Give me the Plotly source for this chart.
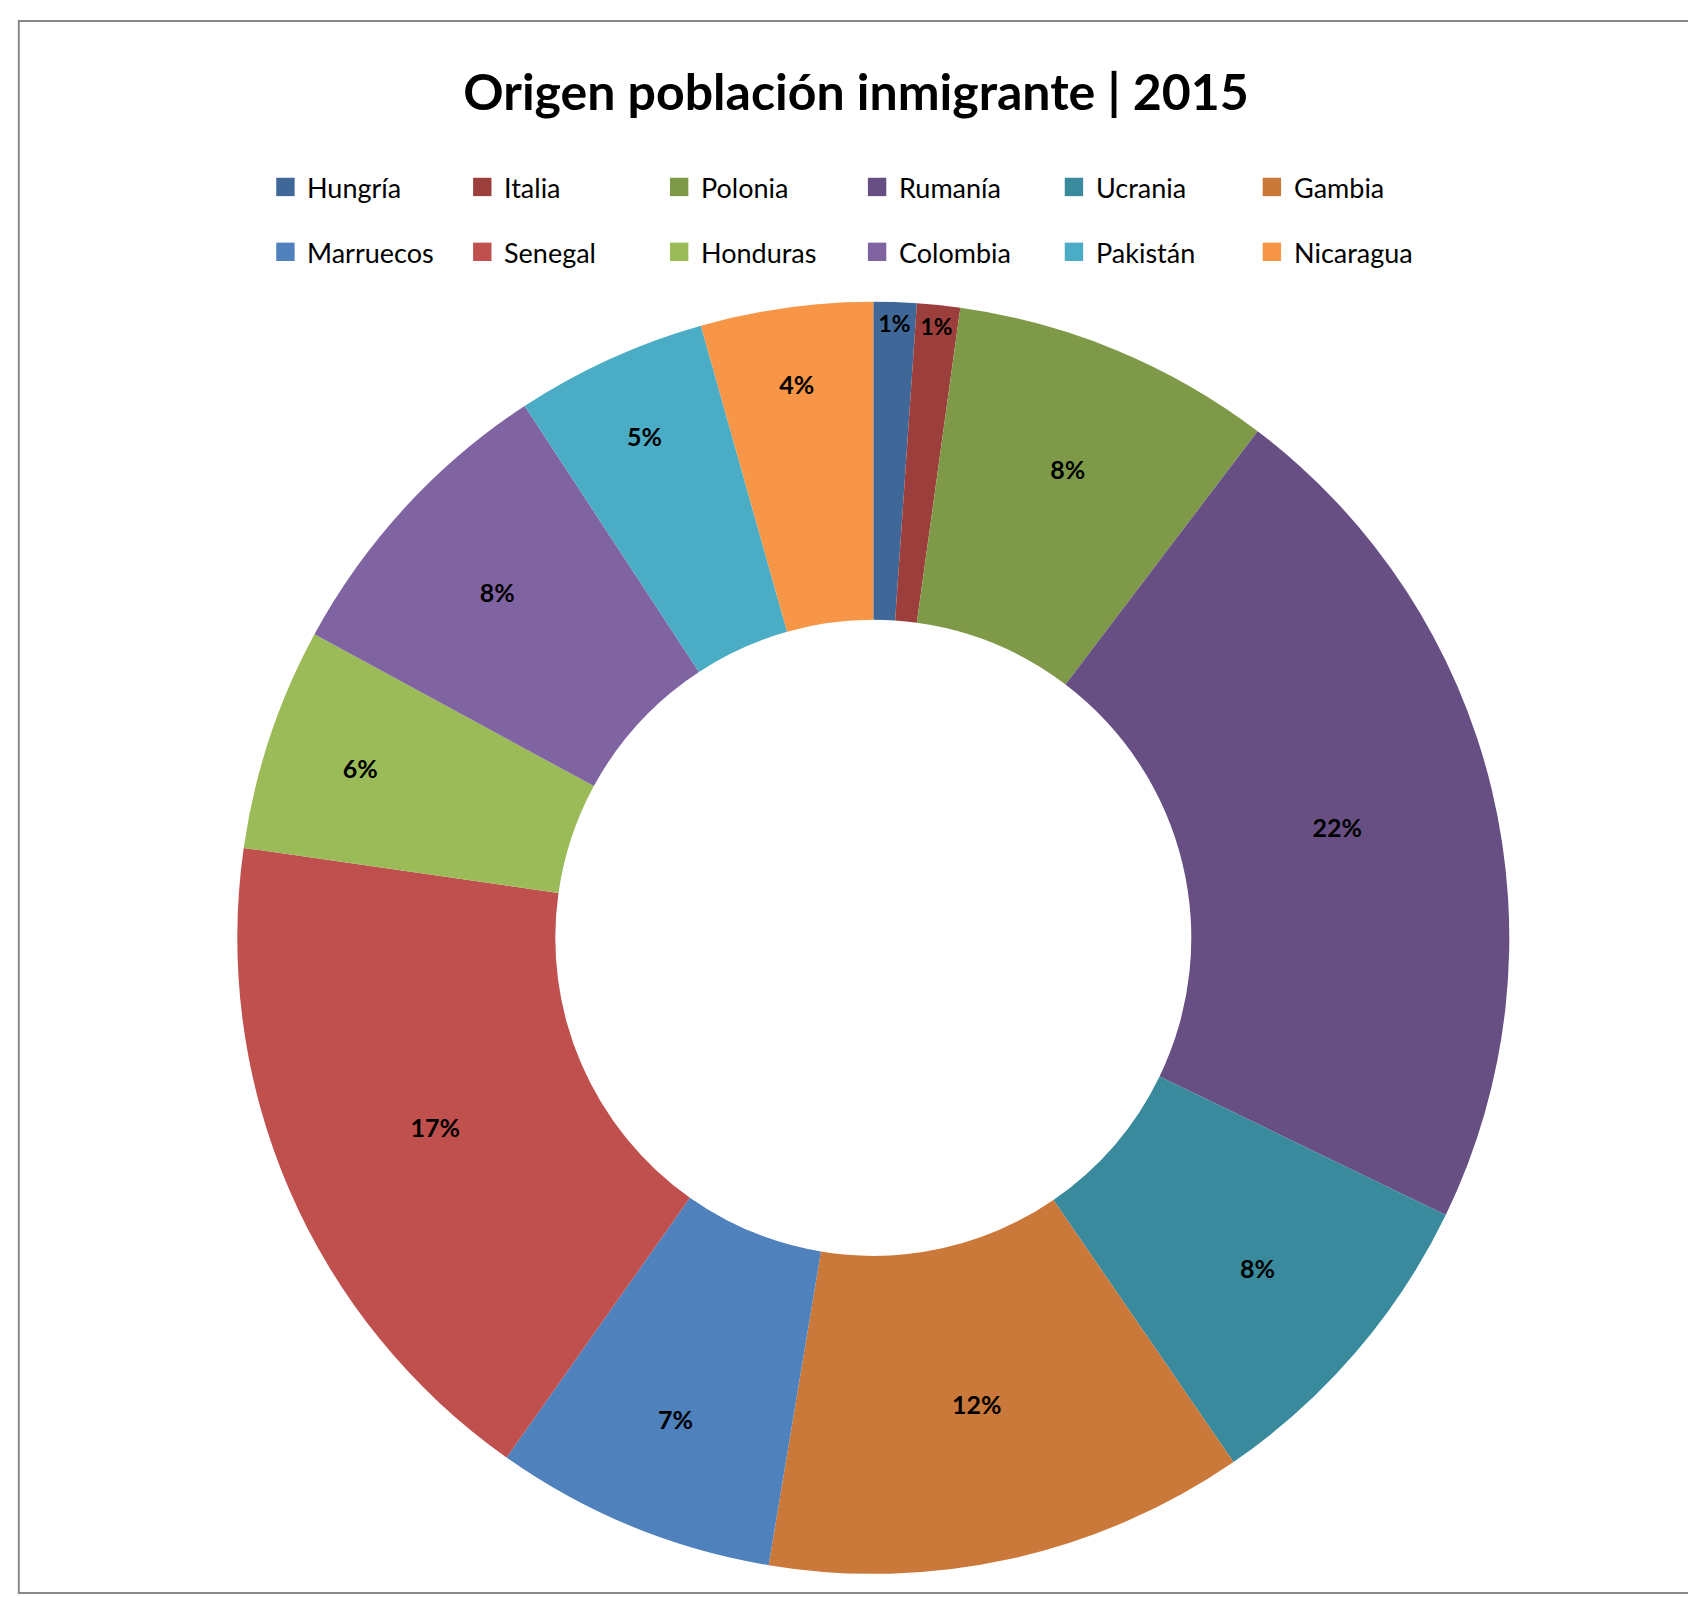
import plotly.graph_objects as go

countries = ["Hungría", "Italia", "Polonia", "Rumanía", "Ucrania", "Gambia",
             "Marruecos", "Senegal", "Honduras", "Colombia", "Pakistán", "Nicaragua"]
values = [1.1, 1.1, 8.2, 22.0, 8.3, 12.3, 7.2, 17.6, 5.7, 7.9, 4.9, 4.4]
colors = ["#3F6899", "#9C3F3C", "#7E9A48", "#684F83", "#3A8A9E", "#CB793A",
          "#4F81BD", "#C0504D", "#9BBB59", "#8064A2", "#4BACC6", "#F79646"]

W, H = 1568, 1477
fig = go.Figure(go.Pie(
    labels=countries, values=values, hole=0.5, sort=False,
    direction="clockwise", rotation=0,
    marker=dict(colors=colors, line=dict(width=0)),
    texttemplate="%{percent:.0%}", textposition="inside",
    insidetextorientation="horizontal",
    textfont=dict(color="black", size=25, family="Lato", weight="bold"),
    domain=dict(x=[212/W, 1388/W], y=[1 - 1450/H, 1 - 270/H]),
    showlegend=False,
))

# legend built as 2 rows x 6 columns
shapes = [dict(type="rect", xref="paper", yref="paper",
               x0=10/W, x1=1556/W, y0=1 - 1466/H, y1=1 - 12/H,
               line=dict(color="#888888", width=2))]
annotations = []
col_x = [248, 430, 612, 795, 977, 1160]
row_y = [166, 226]
for i, (name, c) in enumerate(zip(countries, colors)):
    r, k = divmod(i, 6)
    x0 = col_x[k]; yc = row_y[r]
    shapes.append(dict(type="rect", xref="paper", yref="paper",
                       x0=x0/W, x1=(x0+17)/W, y0=1-(yc+8)/H, y1=1-(yc-9)/H,
                       fillcolor=c, line=dict(width=0)))
    annotations.append(dict(text=name, xref="paper", yref="paper",
                            x=(x0+27)/W, y=1-yc/H, xanchor="left", yanchor="middle",
                            showarrow=False,
                            font=dict(size=27, family="Lato", color="black")))

fig.update_layout(
    width=1696, height=1597,
    margin=dict(l=0, r=0, t=0, b=0),
    paper_bgcolor="white",
    font=dict(family="Lato", color="black"),
    title=dict(text="<b>Origen población inmigrante | 2015</b>",
               x=0.5, xanchor="center", y=1 - 78/H, yanchor="middle",
               font=dict(size=50, family="Lato", color="black")),
    shapes=shapes, annotations=annotations,
)
fig.write_html("out.html")
